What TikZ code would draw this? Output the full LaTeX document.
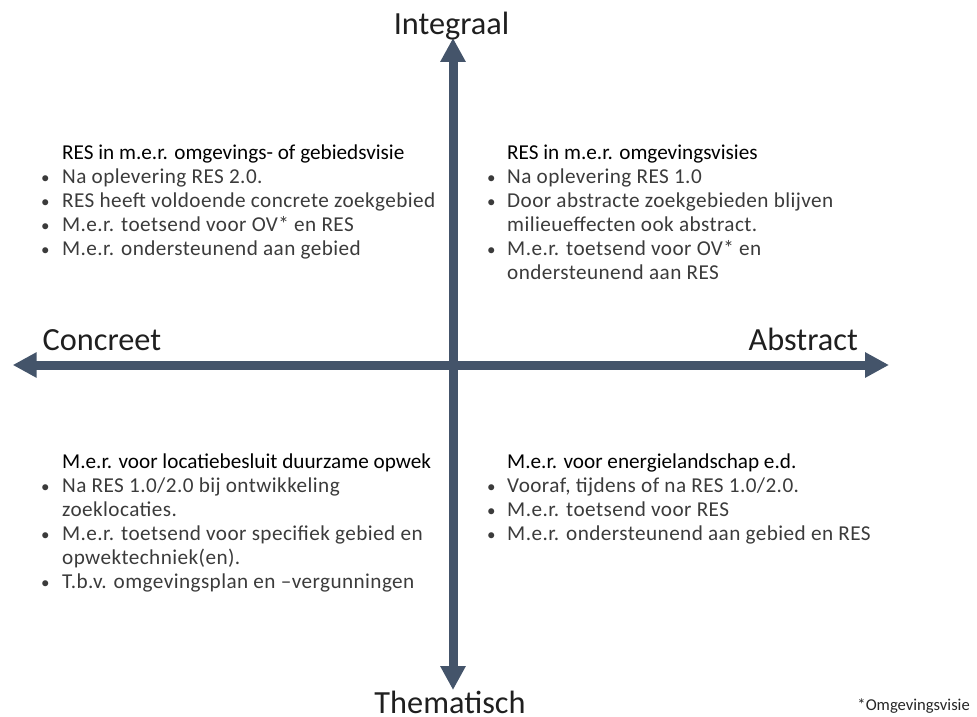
\documentclass[tikz,border=0pt]{standalone}
\usepackage{fontspec}
\setmainfont{Carlito}
\newfontfamily\bodyfont[LetterSpace=2.0]{Carlito}
\usepackage{array}
\usetikzlibrary{arrows.meta}
\definecolor{axiscol}{HTML}{44546A}
\definecolor{bodycol}{HTML}{3B3B3B}
\newcommand{\qtitle}[1]{{\rmfamily\color{black}#1}}
\newcommand{\bl}{{\fontsize{17}{24}\selectfont •}}
\begin{document}
\begin{tikzpicture}[x=1pt,y=-1pt,
  axisarrow/.style={line width=9pt, draw=axiscol,
    {Triangle[width=24pt,length=24pt]}-{Triangle[width=24pt,length=24pt]}},
  axislabel/.style={font=\fontsize{32.3}{36}\selectfont, text=black!88, inner sep=0pt},
  quad/.style={inner sep=0pt, anchor=north west, align=left,
    font=\fontsize{21.2}{24}\bodyfont, text=bodycol},
  note/.style={font=\fontsize{16.6}{20}\selectfont, text=black!85, inner sep=0pt, anchor=base east}
]
\useasboundingbox (0,0) rectangle (977,717);

% axes
\coordinate (top) at (453,38);
\coordinate (bot) at (453,690);
\coordinate (lft) at (12.7,365);
\coordinate (rgt) at (889,365);
\draw[axisarrow] (lft) -- (rgt);
\draw[axisarrow] (bot) -- (top);

% axis labels
\node[axislabel, anchor=base] (integraal) at (451.5,35) {Integraal};
\node[axislabel, anchor=base] (thematisch) at (450,713) {Thematisch};
\node[axislabel, anchor=base west] (concreet) at (42.5,350) {Concreet};
\node[axislabel, anchor=base east] (abstract) at (858,350) {Abstract};

% quadrants
\node[quad] (tl) at (41,142) {%
\begin{tabular}{@{}p{21pt}@{}l@{}}
 & \qtitle{RES in m.e.r. omgevings- of gebiedsvisie}\\
\bl & Na oplevering RES 2.0.\\
\bl & RES heeft voldoende concrete zoekgebied\\
\bl & M.e.r. toetsend voor OV* en RES\\
\bl & M.e.r. ondersteunend aan gebied
\end{tabular}};

\node[quad] (tr) at (487,142) {%
\begin{tabular}{@{}p{20pt}@{}l@{}}
 & \qtitle{RES in m.e.r. omgevingsvisies}\\
\bl & Na oplevering RES 1.0\\
\bl & Door abstracte zoekgebieden blijven\\
 & milieueffecten ook abstract.\\
\bl & M.e.r. toetsend voor OV* en\\
 & ondersteunend aan RES
\end{tabular}};

\node[quad] (bl) at (41,451.7) {%
\begin{tabular}{@{}p{21pt}@{}l@{}}
 & \qtitle{M.e.r. voor locatiebesluit duurzame opwek}\\
\bl & Na RES 1.0/2.0 bij ontwikkeling\\
 & zoeklocaties.\\
\bl & M.e.r. toetsend voor specifiek gebied en\\
 & opwektechniek(en).\\
\bl & T.b.v. omgevingsplan en –vergunningen
\end{tabular}};

\node[quad] (br) at (487,451.7) {%
\begin{tabular}{@{}p{20pt}@{}l@{}}
 & \qtitle{M.e.r. voor energielandschap e.d.}\\
\bl & Vooraf, tijdens of na RES 1.0/2.0.\\
\bl & M.e.r. toetsend voor RES\\
\bl & M.e.r. ondersteunend aan gebied en RES
\end{tabular}};

\node[note] (footnote) at (970,710) {*Omgevingsvisie};
\end{tikzpicture}
\end{document}
